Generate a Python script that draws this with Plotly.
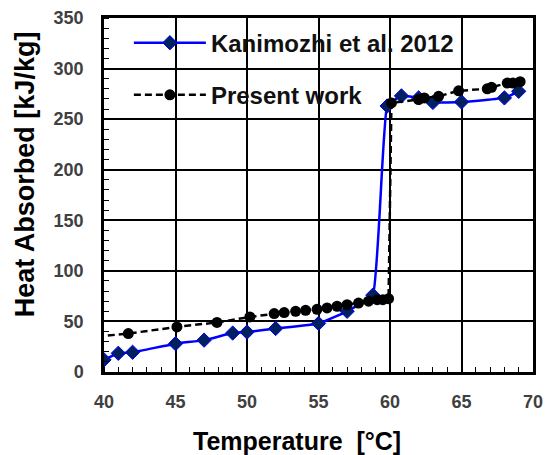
import plotly.graph_objects as go

# Kanimozhi et al. 2012
kan_x = [40, 41, 42, 45, 47, 49, 50, 52, 55, 57, 58.8, 59.8, 60.8, 62, 63, 65, 68, 69]
kan_y = [12, 18.5, 19.5, 28, 31.5, 38.5, 39.5, 43, 48, 60, 76, 263, 273, 271, 266.5, 267, 271, 277.5]

# Present work
pw_x = [39.5, 41.7, 45.1, 47.9, 50.2, 51.9, 52.6, 53.4, 54.1, 54.9, 55.6, 56.3, 57.0, 57.8,
        58.5, 59.1, 59.5, 59.9, 60.1, 62.0, 62.4, 63.4, 64.8, 66.8, 67.1, 68.2, 68.6, 69.1]
pw_y = [35, 38, 44.6, 49, 54.4, 57.8, 58.8, 60, 61, 62, 63.3, 65, 66.6, 68.2,
        70, 71.5, 71.5, 72.5, 266, 269.4, 271, 272.6, 278, 280, 281.5, 285.7, 285.7, 287]

x_ticks = [40, 45, 50, 55, 60, 65, 70]
y_ticks = [0, 50, 100, 150, 200, 250, 300, 350]

x_title = "Temperature  [°C]"
y_title = "Heat Absorbed [kJ/kg]"

FONT = "Liberation Sans, Arial, sans-serif"

fig = go.Figure()
fig.add_trace(go.Scatter(
    x=kan_x, y=kan_y, name="Kanimozhi et al. 2012", mode="lines+markers",
    line=dict(color="#0000FF", width=2.5, shape="spline", smoothing=0.3),
    marker=dict(symbol="diamond", size=11, color="#002060", line=dict(color="#0000FF", width=1)),
    legend="legend",
))
fig.add_trace(go.Scatter(
    x=pw_x, y=pw_y, name="Present work", mode="lines+markers",
    line=dict(color="black", width=2.5, dash="7px,4px"),
    marker=dict(symbol="circle", size=11, color="black"),
    legend="legend2",
))

axis_common = dict(
    showline=True, linecolor="black", linewidth=2.5, mirror=True,
    showgrid=True, gridcolor="black", gridwidth=1.5,
    zeroline=False, ticks="", automargin=False, ticklabeloverflow="allow",
    tickfont=dict(family=FONT, size=18, color="#404040", weight="bold"),
)

fig.update_xaxes(
    range=[40, 70], tickvals=x_ticks, ticklabelstandoff=12,
    minor=dict(dtick=1, ticks="inside", ticklen=5, tickcolor="black", tickwidth=1, showgrid=False),
    **axis_common,
)
fig.update_yaxes(
    range=[0, 350], tickvals=y_ticks, ticklabelstandoff=14,
    minor=dict(dtick=10, ticks="inside", ticklen=5, tickcolor="black", tickwidth=1, showgrid=False),
    **axis_common,
)

fig.add_annotation(text=x_title, xref="paper", yref="paper", x=0.45, y=-0.195,
                   xanchor="center", yanchor="middle", showarrow=False,
                   font=dict(family=FONT, size=25, color="black", weight="bold"))
fig.add_annotation(text=y_title, xref="paper", yref="paper", x=-0.184, y=0.559,
                   xanchor="center", yanchor="middle", showarrow=False, textangle=-90,
                   font=dict(family=FONT, size=27, color="black", weight="bold"))

legend_font = dict(family=FONT, size=24, color="#111111", weight="bold")
fig.update_layout(
    width=549, height=447,
    margin=dict(l=96, r=24, t=10, b=83),
    paper_bgcolor="white", plot_bgcolor="white",
    showlegend=True,
    legend=dict(x=0.058, y=0.929, xanchor="left", yanchor="middle", bgcolor="rgba(0,0,0,0)",
                font=legend_font, itemwidth=72),
    legend2=dict(x=0.058, y=0.782, xanchor="left", yanchor="middle", bgcolor="rgba(0,0,0,0)",
                 font=legend_font, itemwidth=72),
)

fig.write_html("out.html")
